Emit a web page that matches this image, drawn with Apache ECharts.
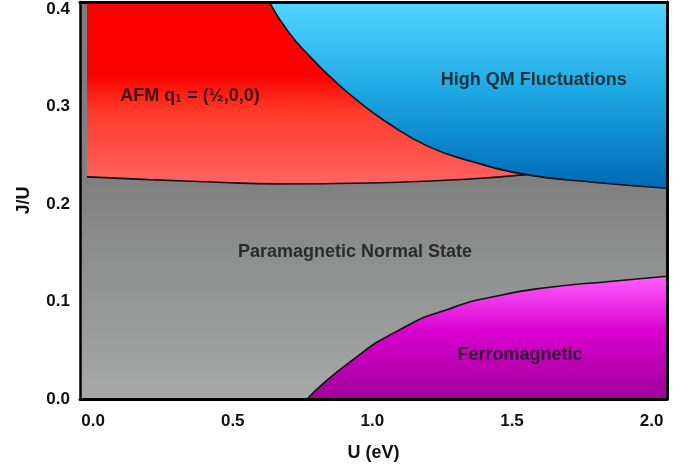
<!DOCTYPE html>
<html>
<head>
<meta charset="utf-8">
<script src="https://cdn.jsdelivr.net/npm/echarts@6/dist/echarts.min.js"></script>
<style>
  html, body { margin: 0; padding: 0; background: #fff; }
  #chart { width: 687px; height: 470px; }
</style>
</head>
<body>
<div id="chart"></div>
<script>
// axis extents
var uMin = -0.047, uMax = 2.055;
var jMin = 0, jMax = 0.407;

// lower edge of the AFM region
var afmU = [-0.022, 0.20, 0.45, 0.65, 0.99, 1.35, 1.55];
var afmJ = [0.2277, 0.2249, 0.2222, 0.2205, 0.2215, 0.2256, 0.230];

// lower edge of the high QM fluctuation region
var qmU = [0.63, 0.70, 0.78, 0.85, 0.95, 1.05, 1.20, 1.35, 1.55, 1.80, 2.055];
var qmJ = [0.407, 0.376, 0.350, 0.330, 0.305, 0.284, 0.259, 0.244, 0.230, 0.222, 0.216];

// upper edge of the ferromagnetic region
var fmU = [0.766, 0.92, 1.10, 1.28, 1.46, 1.65, 1.85, 2.055];
var fmJ = [0, 0.038, 0.0713, 0.0929, 0.1064, 0.115, 0.1204, 0.1258];

// region names
var regionNames = ['AFM q{s|1} = (½,0,0)', 'High QM Fluctuations', 'Paramagnetic Normal State', 'Ferromagnetic'];
var regionU = [0.347, 1.578, 0.938, 1.529];
var regionJ = [0.311, 0.327, 0.151, 0.045];

var FONT = '"Liberation Sans", Arial, Helvetica, sans-serif';

function pairs(xs, ys) {
  return xs.map(function (x, i) { return [x, ys[i]]; });
}

function grad(stops) {
  return new echarts.graphic.LinearGradient(0, 0, 0, 1, stops.map(function (s) {
    return { offset: s[0], color: s[1] };
  }));
}

var chart = echarts.init(document.getElementById('chart'));

var edge = { color: '#111', width: 1.6 };

var axisText = { color: '#111', fontFamily: FONT, fontWeight: 'bold', fontSize: 17 };

chart.setOption({
  animation: false,
  grid: {
    left: 80, right: 20, top: 2, bottom: 71,
    show: true,
    borderWidth: 0,
    backgroundColor: grad([[0, '#7c7c7c'], [0.45, '#808080'], [1, '#a6a9a8']])
  },
  xAxis: [{
    type: 'value', min: uMin, max: uMax, z: 10,
    name: 'U (eV)', nameLocation: 'middle', nameGap: 45,
    nameTextStyle: { color: '#111', fontFamily: FONT, fontWeight: 'bold', fontSize: 18 },
    axisLine: { onZero: false, lineStyle: { color: '#000', width: 3 } },
    axisTick: { show: false },
    splitLine: { show: false },
    axisLabel: Object.assign({ margin: 14, showMinLabel: false, showMaxLabel: false,
      formatter: function (v) { return v.toFixed(1); } }, axisText)
  }, {
    type: 'value', position: 'top', min: uMin, max: uMax, z: 10,
    axisLine: { show: true, onZero: false, lineStyle: { color: '#000', width: 3 } },
    axisTick: { show: false }, axisLabel: { show: false }, splitLine: { show: false }
  }],
  yAxis: [{
    type: 'value', min: jMin, max: jMax, interval: 0.1, z: 10,
    name: 'J/U', nameLocation: 'middle', nameGap: 47,
    nameTextStyle: { color: '#111', fontFamily: FONT, fontWeight: 'bold', fontSize: 18 },
    axisLine: { show: true, onZero: false, lineStyle: { color: '#000', width: 2.5 } },
    axisTick: { show: false },
    splitLine: { show: false },
    axisLabel: Object.assign({ margin: 10, showMaxLabel: false,
      formatter: function (v) { return v.toFixed(1); } }, axisText)
  }, {
    type: 'value', position: 'right', min: jMin, max: jMax, z: 10,
    axisLine: { show: true, onZero: false, lineStyle: { color: '#000', width: 3 } },
    axisTick: { show: false }, axisLabel: { show: false }, splitLine: { show: false }
  }],
  series: [{
    name: 'AFM',
    type: 'line',
    data: pairs(afmU, afmJ),
    smooth: 0.5,
    symbol: 'none',
    lineStyle: edge,
    areaStyle: {
      origin: 'end', opacity: 1,
      color: grad([[0, '#ff0000'], [0.4, '#fb0000'], [0.6, '#ff3a2a'], [1, '#ff6464']])
    }
  }, {
    name: 'High QM',
    type: 'line',
    data: pairs(qmU, qmJ),
    smooth: 0.5,
    symbol: 'none',
    lineStyle: edge,
    areaStyle: {
      origin: 'end', opacity: 1,
      color: grad([[0, '#52d5ff'], [0.5, '#1ba6e2'], [1, '#0068b6']])
    }
  }, {
    name: 'Ferro',
    type: 'line',
    data: pairs(fmU, fmJ),
    smooth: 0.6,
    symbol: 'none',
    lineStyle: edge,
    areaStyle: {
      origin: 'start', opacity: 1,
      color: grad([[0, '#ff5eff'], [0.45, '#d800cf'], [1, '#a0009a']])
    }
  }, {
    name: 'labels',
    type: 'scatter',
    symbolSize: 0,
    z: 5,
    data: regionU.map(function (u, i) { return { value: [u, regionJ[i]], name: regionNames[i] }; }),
    label: {
      show: true, position: 'inside',
      formatter: function (p) { return p.name; },
      color: '#111', fontFamily: FONT, fontWeight: 'bold', fontSize: 18,
      rich: {
        s: { color: '#111', fontFamily: FONT, fontWeight: 'bold', fontSize: 11, padding: [7, 1, 0, 0] }
      }
    }
  }]
});
</script>
</body>
</html>
